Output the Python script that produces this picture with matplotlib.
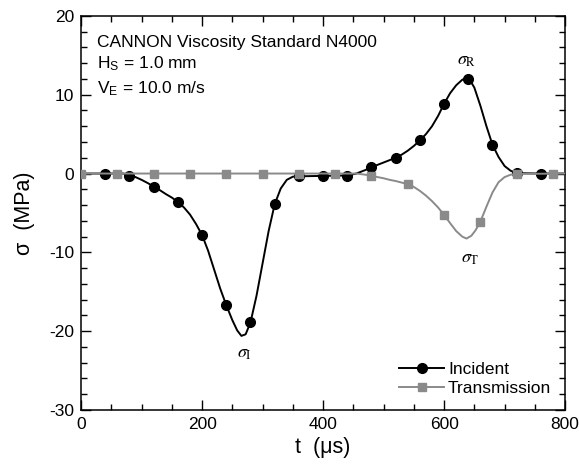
import matplotlib
matplotlib.use("Agg")
import matplotlib.pyplot as plt
from matplotlib.ticker import MultipleLocator

plt.rcParams['font.family'] = ['Liberation Sans', 'DejaVu Sans']
plt.rcParams['mathtext.fontset'] = 'stix'
plt.rcParams['axes.unicode_minus'] = False

# Incident (line)
inc_t = [0, 40, 70, 80, 90, 100, 110, 120, 130, 140, 150, 160, 170, 180, 190, 200,
         210, 220, 230, 240, 250, 258, 265, 272, 280, 290, 300, 310, 320, 330, 340,
         350, 360, 400, 440, 455, 460, 470, 480, 490, 500, 510, 520, 530, 540, 550,
         560, 570, 580, 590, 600, 610, 620, 630, 636, 642, 650, 660, 670, 680, 690,
         700, 710, 720, 760, 800]
inc_v = [0, 0, 0, -0.2, -0.45, -0.8, -1.2, -1.65, -2.1, -2.6, -3.05, -3.6, -4.3, -5.2,
         -6.4, -7.8, -9.8, -12.2, -14.6, -16.7, -18.6, -19.9, -20.6, -20.4, -18.9,
         -15.5, -11.4, -7.3, -3.9, -1.9, -0.8, -0.4, -0.35, -0.3, -0.25, 0.0, 0.15,
         0.45, 0.8, 1.1, 1.4, 1.7, 2.0, 2.4, 2.9, 3.5, 4.2, 5.0, 6.0, 7.3, 8.85, 10.2,
         11.2, 11.9, 12.1, 11.95, 10.9, 8.6, 6.0, 3.65, 2.1, 0.95, 0.35, 0.05, 0, 0]
# Incident markers
inc_mt = [40, 80, 120, 160, 200, 240, 280, 320, 360, 400, 440, 480, 520, 560, 600,
          640, 680, 720, 760]
inc_mv = [0, -0.25, -1.65, -3.6, -7.8, -16.7, -18.9, -3.9, -0.35, -0.3, -0.25, 0.8,
          2.0, 4.2, 8.85, 12.0, 3.65, 0.05, 0]

# Transmission (line)
tr_t = [0, 455, 460, 470, 480, 490, 500, 510, 520, 530, 540, 550, 560, 570, 580, 590,
        600, 610, 620, 630, 637, 645, 652, 660, 670, 680, 690, 700, 710, 720, 800]
tr_v = [0, 0, -0.05, -0.15, -0.3, -0.45, -0.6, -0.8, -0.95, -1.15, -1.35, -1.7, -2.2,
        -2.8, -3.5, -4.3, -5.25, -6.3, -7.3, -8.0, -8.25, -7.9, -7.2, -6.1, -4.2,
        -2.4, -1.1, -0.45, -0.15, -0.05, 0]
# Transmission markers
tr_mt = [0, 60, 120, 180, 240, 300, 360, 420, 480, 540, 600, 660, 720, 780]
tr_mv = [0, 0, 0, 0, 0, 0, 0, 0, -0.3, -1.35, -5.25, -6.1, -0.05, 0]

black = '#000000'
gray = '#8a8a8a'

fig = plt.figure(figsize=(5.79, 4.68), dpi=100)
ax = fig.add_axes([0.140, 0.124, 0.836, 0.842])

ax.plot(inc_t, inc_v, color=black, lw=1.4, zorder=2)
ax.plot(inc_mt, inc_mv, ls='none', marker='o', ms=7, color=black, zorder=3)
ax.plot(tr_t, tr_v, color=gray, lw=1.4, zorder=4)
ax.plot(tr_mt, tr_mv, ls='none', marker='s', ms=5.4, color=gray, zorder=5)

# legend proxies
h1, = ax.plot([], [], color=black, lw=1.4, marker='o', ms=7, label='Incident')
h2, = ax.plot([], [], color=gray, lw=1.4, marker='s', ms=5.4, label='Transmission')
leg = ax.legend(handles=[h1, h2], loc='lower right', frameon=False, fontsize=12.5,
                handlelength=2.6, handletextpad=0.2, labelspacing=0.25,
                borderaxespad=0.4)

ax.set_xlim(0, 800)
ax.set_ylim(-30, 20)
ax.xaxis.set_major_locator(MultipleLocator(200))
ax.xaxis.set_minor_locator(MultipleLocator(50))
ax.yaxis.set_major_locator(MultipleLocator(10))
ax.yaxis.set_minor_locator(MultipleLocator(2))
ax.tick_params(which='both', direction='in', top=True, right=True, labelsize=12.5,
               width=1.0)
ax.tick_params(which='major', length=7, pad=5)
ax.tick_params(which='minor', length=4)
for s in ax.spines.values():
    s.set_linewidth(1.1)

ax.set_xlabel('t  (μs)', fontsize=15.5, labelpad=4)
ax.set_ylabel('σ  (MPa)', fontsize=15.5, labelpad=10)

ax.text(0.033, 0.921, 'CANNON Viscosity Standard N4000', transform=ax.transAxes,
        fontsize=12.5, va='baseline')
ax.text(0.033, 0.866, r'H$_\mathregular{S}$ = 1.0 mm', transform=ax.transAxes,
        fontsize=12.5, va='baseline')
ax.text(0.033, 0.802, r'V$_\mathregular{E}$ = 10.0 m/s', transform=ax.transAxes,
        fontsize=12.5, va='baseline')

ax.text(638, 14.3, r'$\sigma_{\rm R}$', fontsize=13, ha='center', va='center')
ax.text(270, -22.8, r'$\sigma_{\rm I}$', fontsize=13, ha='center', va='center')
ax.text(643, -10.8, r'$\sigma_{\rm T}$', fontsize=13, ha='center', va='center')

fig.savefig('out.png', dpi=100)
